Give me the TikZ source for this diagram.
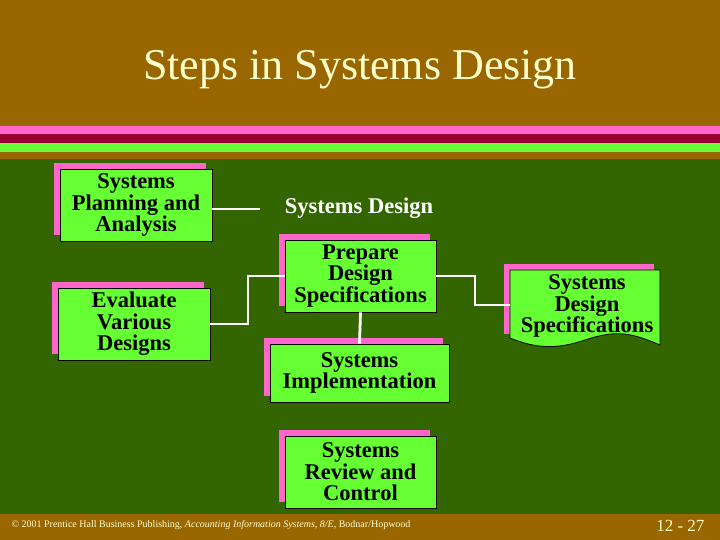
\documentclass[tikz,border=0pt]{standalone}
\usepackage{fontspec}
\setmainfont{Liberation Serif}
\definecolor{brn}{HTML}{996600}
\definecolor{dgr}{HTML}{336600}
\definecolor{lgr}{HTML}{66FF33}
\definecolor{pnk}{HTML}{FF66CC}
\definecolor{drd}{HTML}{990033}
\definecolor{cream}{HTML}{FFFFCC}
\begin{document}
\begin{tikzpicture}[x=1pt,y=-1pt,
  box/.style={draw=black,fill=lgr,line width=0.8pt,align=center,font=\bfseries\fontsize{22.5}{21.5}\selectfont,inner sep=0pt},
  wire/.style={draw=white,line width=2.8pt}]
\useasboundingbox (0,0) rectangle (720,540);
\fill[brn] (0,0) rectangle (720,540);
\fill[pnk] (0,126) rectangle (720,134);
\fill[drd] (0,134) rectangle (720,143);
\fill[lgr] (0,143) rectangle (720,152);
\fill[dgr] (0,159) rectangle (720,514);
\node[text=cream,font=\fontsize{44}{46}\selectfont] (title) at (360,70) {Steps in Systems Design};
% shadows
\fill[pnk] (54,163) rectangle (206,235);
\fill[pnk] (52,282) rectangle (204,354);
\fill[pnk] (279,234) rectangle (430,306);
\fill[pnk] (264,338) rectangle (443,396);
\fill[pnk] (279,430) rectangle (430,502);
\fill[pnk] (504,264) rectangle (654,334);
\node[box,minimum width=152pt,minimum height=72pt] (spa) at (136,205) {Systems\\Planning and\\Analysis};
\node[box,minimum width=152pt,minimum height=72pt] (evd) at (134,324) {Evaluate\\Various\\Designs};
\node[box,minimum width=151pt,minimum height=72pt] (pds) at (360.5,276) {Prepare\\Design\\Specifications};
\node[box,minimum width=179pt,minimum height=58pt] (imp) at (359.5,373) {Systems\\Implementation};
\node[box,minimum width=151pt,minimum height=72pt] (rev) at (360.5,472) {Systems\\Review and\\Control};
\node[text=white,font=\bfseries\fontsize{22.5}{22}\selectfont] (sd) at (359,208) {Systems Design};
% document shape
\draw[fill=lgr,line width=0.8pt] (510,270) -- (660,270) -- (660,345)
  .. controls (630,332) and (615,330) .. (585,340)
  .. controls (555,350) and (535,348) .. (510,338) -- cycle;
\node[align=center,font=\bfseries\fontsize{22.5}{21.5}\selectfont] (doc) at (587,306) {Systems\\Design\\Specifications};
\coordinate (sdl) at (260,209);
\draw[wire] (spa.east |- sdl) -- (sdl);
\draw[wire] (evd.east) -- (248,324) -- (248,276) -- (pds.west);
\draw[wire] (pds.east) -- (475,276) -- (475,305) -- (510,305);
\draw[wire] (pds.south) -- (imp.north);
\node[text=cream,anchor=west,font=\fontsize{10}{11}\selectfont] (foot) at (8,525) {© 2001 Prentice Hall Business Publishing, \textit{Accounting Information Systems, 8/E}, Bodnar/Hopwood};
\node[text=cream,anchor=east,font=\fontsize{17}{18}\selectfont] (pg) at (708,526) {12 - 27};
\end{tikzpicture}
\end{document}
